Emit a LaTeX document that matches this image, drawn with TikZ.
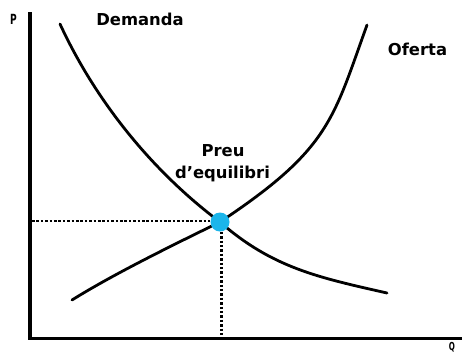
\documentclass[tikz,border=0pt]{standalone}
\usepackage{fontspec}
\setmainfont{DejaVu Sans}
\definecolor{eqblue}{RGB}{27,181,234}
\begin{document}
\begin{tikzpicture}[x=1pt,y=-1pt,
  axis/.style={line width=3.2pt,line cap=rect},
  curve/.style={line width=2.8pt,line cap=round,line join=round},
  guide/.style={line width=2.9pt,dash pattern=on 2.5pt off 1.9pt},
  lbl/.style={font=\fontsize{16.4}{19}\selectfont\bfseries,inner sep=0pt,anchor=base},
  axlbl/.style={font=\fontsize{14}{15}\selectfont\bfseries,inner sep=0pt,xscale=0.65},
  eqdot/.style={circle,fill=eqblue,minimum size=19pt,inner sep=0pt}]
\useasboundingbox[fill=white] (0,0) rectangle (463,354);
% axes
\coordinate (top) at (30,14);
\coordinate (origin) at (30,338.5);
\coordinate (right) at (460,338.5);
\draw[axis] (top) -- (origin) -- (right);
\node[axlbl] (p) at (13.5,19) {P};
\node[axlbl,font=\fontsize{11}{12}\selectfont\bfseries,anchor=north] (q) at (452,342.5) {Q};
% curve end points
\coordinate (eqpt) at (220,222);
\coordinate (d0) at (60,24);
\coordinate (d1) at (387,293);
\coordinate (s0) at (72,300);
\coordinate (s1) at (367,25);
% demand
\draw[curve] (d0) .. controls (95.6,101) and (152,171) .. (eqpt)
  .. controls (272.5,268) and (319,277.6) .. (d1);
% supply
\draw[curve] (s0) .. controls (114.5,273.5) and (175,244) .. (eqpt)
  .. controls (330,149) and (333,119) .. (s1);
% equilibrium point
\node[eqdot] (eq) at (eqpt) {};
\coordinate (yaxis) at (32,221);
\coordinate (xaxis) at (221.5,337);
\draw[guide] (yaxis) -- (yaxis -| eq.west);
\draw[guide] (eq.south -| xaxis) -- (xaxis);
% labels
\node[lbl] (dem) at (140,25.5) {Demanda};
\node[lbl] (of) at (417.5,55.5) {Oferta};
\node[lbl] (preu) at (223,156.5) {Preu};
\node[lbl] (dequ) at (222.5,178) {d’equilibri};
\end{tikzpicture}
\end{document}
